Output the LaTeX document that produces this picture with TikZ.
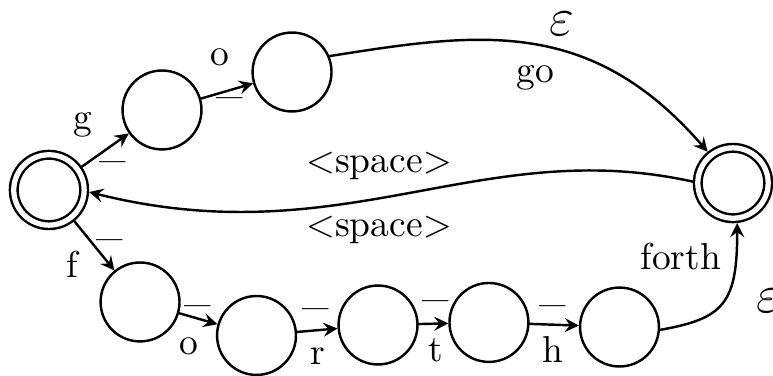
\documentclass[tikz,border=0pt]{standalone}
\begin{document}
\begin{tikzpicture}[>=stealth,line cap=round,line join=round,line width=.65pt,
  every node/.style={inner sep=1pt},
  state/.style={circle,draw,minimum size=.74cm,inner sep=0pt},
  accept/.style={state,minimum size=.66cm,double,double distance=1.4pt,outer sep=1.35pt},
  dashlbl/.style={font=\Large,yshift=-1.75pt},
  epslbl/.style={font=\Large}]
 \useasboundingbox (0,0) rectangle (7.247,-3.525);
 % states
 \node[accept] (start) at (0.459,-1.781) {};
 \node[state] (g1) at (1.519,-1.031) {};
 \node[state] (g2) at (2.738,-0.675) {};
 \node[accept] (acc) at (6.872,-1.716) {};
 \node[state] (f1) at (1.313,-2.831) {};
 \node[state] (f2) at (2.405,-3.145) {};
 \node[state] (f3) at (3.544,-3.047) {};
 \node[state] (f4) at (4.584,-3.023) {};
 \node[state] (f5) at (5.808,-3.066) {};
 % transitions
 \draw[->] (start) -- (g1);
 \draw[->] (g1) -- (g2);
 \draw[->] (g2.23) .. controls +(9:1.41) and +(131:1.69) .. (acc.129);
 \draw[->] (acc.178) .. controls +(167.5:2.04) and +(-14:2.46) .. (start.-3);
 \draw[->] (start) -- (f1);
 \draw[->] (f1) -- (f2);
 \draw[->] (f2) -- (f3);
 \draw[->] (f3) -- (f4);
 \draw[->] (f4) -- (f5);
 \draw[->] (f5.-4) .. controls +(10:.61) and +(-90:.75) .. (acc.-84);
 % labels
 \node (lg) at (0.778,-1.172) {g};
 \node[dashlbl] (dg) at (1.059,-1.528) {--};
 \node (lo) at (2.063,-0.534) {o};
 \node[dashlbl] (do) at (2.156,-0.928) {--};
 \node[epslbl] (ego) at (5.269,-0.225) {$\varepsilon$};
 \node (lgo) at (5.016,-0.731) {go};
 \node (sp1) at (3.553,-1.556) {$<$space$>$};
 \node (sp2) at (3.553,-2.156) {$<$space$>$};
 \node (lf) at (0.675,-2.475) {f};
 \node[dashlbl] (df) at (1.031,-2.259) {--};
 \node (lo2) at (1.772,-3.244) {o};
 \node[dashlbl] (do2) at (1.856,-2.878) {--};
 \node (lr) at (2.981,-3.338) {r};
 \node[dashlbl] (dr) at (2.963,-2.906) {--};
 \node (lt) at (4.088,-3.281) {t};
 \node[dashlbl] (dt) at (4.088,-2.831) {--};
 \node (lh) at (5.184,-3.281) {h};
 \node[dashlbl] (dh) at (5.184,-2.878) {--};
 \node (lforth) at (6.384,-2.409) {forth};
 \node[epslbl] (efo) at (7.209,-2.822) {$\varepsilon$};
\end{tikzpicture}
\end{document}
